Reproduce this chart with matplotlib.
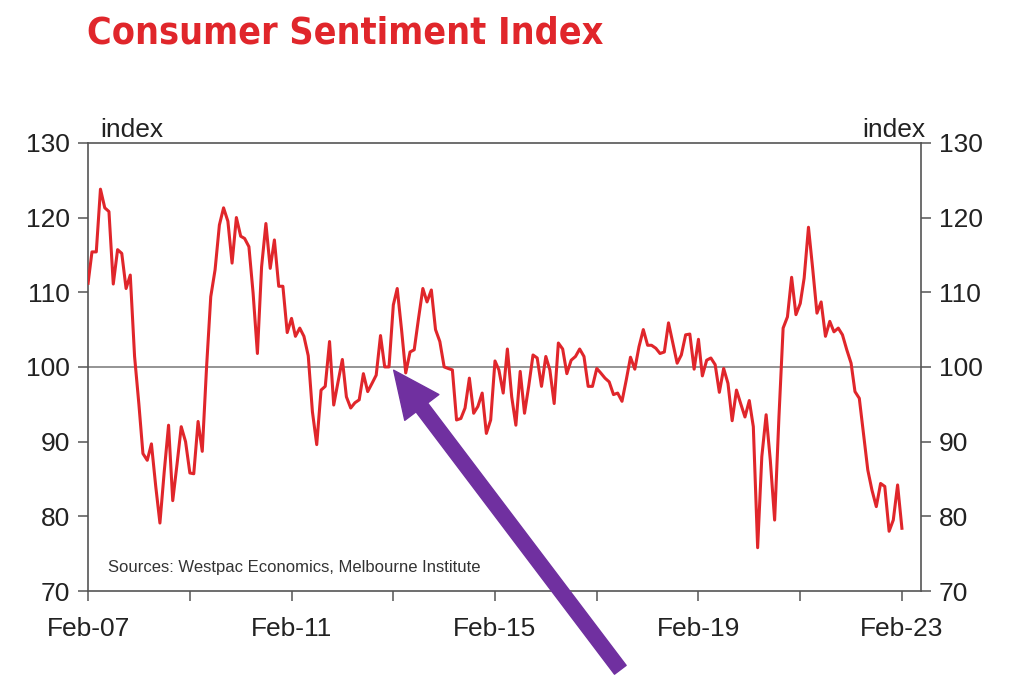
#Imports
import pandas as pd
import matplotlib.pyplot as plt
import matplotlib.dates as mdates
from matplotlib.patches import FancyArrowPatch
from matplotlib.ticker import FixedLocator, NullFormatter

#Monthly index values, Feb-07 .. Feb-23 (one row per year starting at Feb)
start_month = '2007-02-01'
sentiment = [
    111.2, 115.4, 115.4, 123.8, 121.3, 120.8, 111.1, 115.7, 115.2, 110.5, 112.3, 101.4,
    95.0, 88.4, 87.5, 89.7, 84.0, 79.1, 86.0, 92.2, 82.1, 87.0, 92.0, 90.0,
    85.8, 85.7, 92.7, 88.7, 100.0, 109.4, 113.0, 119.0, 121.3, 119.5, 113.9, 120.0,
    117.5, 117.2, 116.1, 109.9, 101.8, 113.4, 119.2, 113.2, 117.0, 110.8, 110.8, 104.6,
    106.5, 104.1, 105.2, 104.1, 101.5, 94.0, 89.6, 96.9, 97.4, 103.4, 94.9, 98.0,
    101.0, 96.0, 94.5, 95.2, 95.6, 99.1, 96.7, 97.8, 98.9, 104.2, 100.0, 100.0,
    108.3, 110.5, 105.0, 99.2, 102.0, 102.3, 106.5, 110.5, 108.7, 110.3, 105.0, 103.4,
    100.0, 99.8, 99.6, 92.9, 93.1, 94.5, 98.5, 93.8, 94.7, 96.5, 91.1, 92.9,
    100.8, 99.6, 96.5, 102.4, 96.0, 92.2, 99.4, 93.8, 97.4, 101.6, 101.2, 97.4,
    101.4, 99.6, 95.1, 103.2, 102.4, 99.1, 100.9, 101.4, 102.4, 101.4, 97.4, 97.4,
    99.8, 99.2, 98.5, 98.0, 96.3, 96.5, 95.4, 98.3, 101.3, 99.7, 102.7, 105.0,
    102.9, 102.9, 102.5, 101.8, 102.0, 105.9, 103.2, 100.5, 101.6, 104.3, 104.4, 99.7,
    103.7, 98.8, 100.9, 101.2, 100.3, 96.6, 99.8, 97.8, 92.8, 96.9, 95.1, 93.3,
    95.5, 92.0, 75.8, 88.0, 93.6, 87.5, 79.5, 93.3, 105.2, 106.7, 112.0, 107.0,
    108.5, 111.9, 118.7, 113.2, 107.2, 108.7, 104.1, 106.1, 104.7, 105.2, 104.3, 102.3,
    100.5, 96.7, 95.8, 91.1, 86.2, 83.5, 81.3, 84.4, 84.0, 78.0, 79.5, 84.2,
    78.4,
]
dates = pd.date_range(start_month, periods=len(sentiment), freq='MS')

major_ticks = ['2007-02-01', '2011-02-01', '2015-02-01', '2019-02-01', '2023-02-01']
major_labels = ['Feb-07', 'Feb-11', 'Feb-15', 'Feb-19', 'Feb-23']
minor_ticks = ['2009-02-01', '2013-02-01', '2017-02-01', '2021-02-01']
y_ticks = [70, 80, 90, 100, 110, 120, 130]

plt.rcParams['font.family'] = ['Liberation Sans', 'DejaVu Sans']

fig = plt.figure(figsize=(10.24, 6.77), dpi=100)
ax = fig.add_axes([0.086, 0.127, 0.813, 0.662])

ax.plot(dates, sentiment, color='#e0262b', lw=2.2, zorder=3)
ax.axhline(100, color='#777777', lw=1.1, zorder=2)

ax.set_ylim(70, 130)
ax.set_xlim(pd.Timestamp('2007-02-01'), pd.Timestamp('2023-06-15'))
ax.set_yticks(y_ticks)
ax.set_xticks(mdates.date2num(pd.to_datetime(major_ticks)))
ax.set_xticklabels(major_labels)
ax.xaxis.set_minor_locator(FixedLocator(mdates.date2num(pd.to_datetime(minor_ticks))))
ax.xaxis.set_minor_formatter(NullFormatter())

for s in ax.spines.values():
    s.set_color('#555555')
    s.set_linewidth(1.2)
ax.tick_params(axis='both', which='both', direction='out', length=7, width=1.1,
               color='#555555', labelsize=19, labelcolor='#222222')
ax.tick_params(axis='y', right=True, labelright=True, pad=6)
ax.tick_params(axis='x', pad=12)

ax.text(0.015, 1.003, 'index', transform=ax.transAxes, fontsize=19,
        color='#222222', ha='left', va='bottom')
ax.text(1.006, 1.003, 'index', transform=ax.transAxes, fontsize=19,
        color='#222222', ha='right', va='bottom')
ax.text(0.024, 0.035, 'Sources: Westpac Economics, Melbourne Institute',
        transform=ax.transAxes, fontsize=12, color='#333333', ha='left', va='bottom')

fig.text(0.085, 0.951, 'Consumer Sentiment Index', fontsize=27, fontweight='bold',
         fontstretch='condensed', color='#e0262b', ha='left', va='center',
         family=['DejaVu Sans', 'Liberation Sans'])

#Purple arrow drawn over the chart
fig.add_artist(FancyArrowPatch(
    (622 / 1024, 1 - 672 / 677), (392 / 1024, 1 - 368 / 677),
    transform=fig.transFigure, arrowstyle='simple,head_width=2.2,head_length=2.4,tail_width=0.75',
    mutation_scale=14, color='#7030a0', zorder=10))

fig.savefig('out.png', dpi=100)
